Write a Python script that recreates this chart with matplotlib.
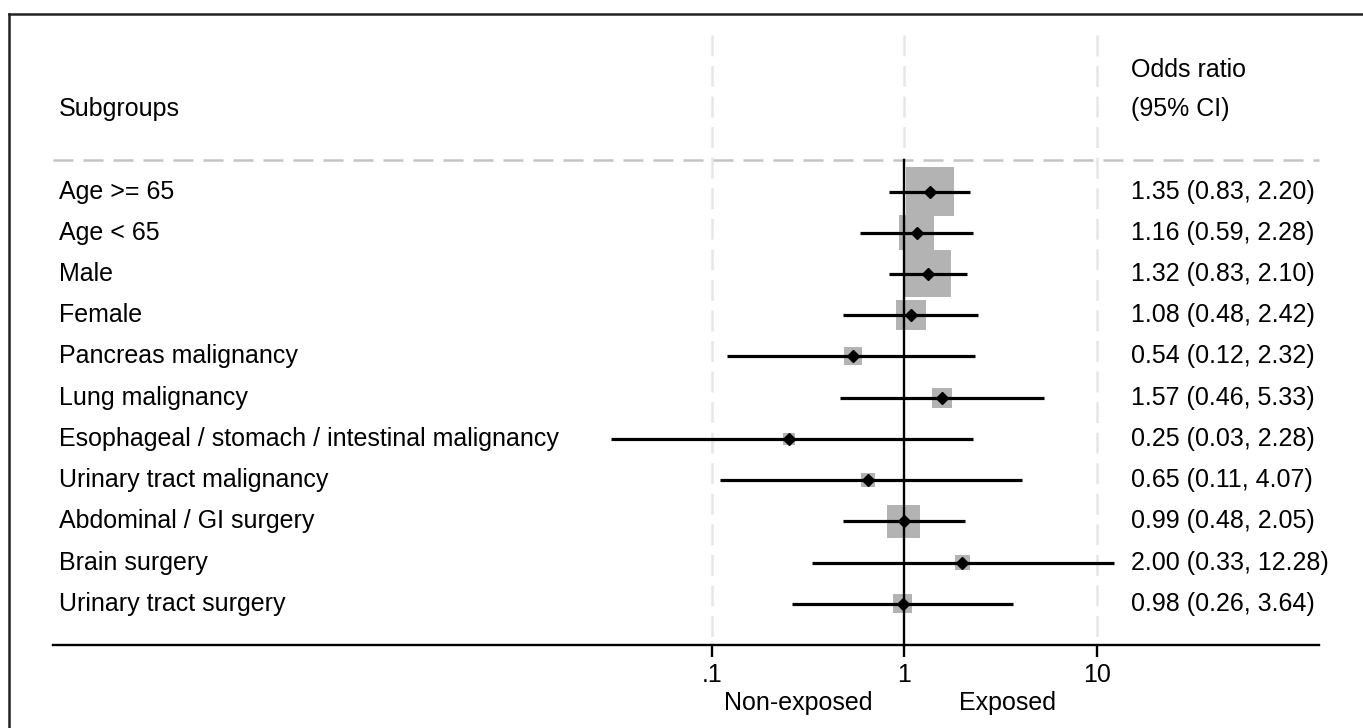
import numpy as np
import matplotlib
matplotlib.use("Agg")
import matplotlib.pyplot as plt
from matplotlib.lines import Line2D

plt.rcParams['font.family'] = ['Liberation Sans', 'DejaVu Sans']
plt.rcParams['lines.scale_dashes'] = False

subgroups = ['Age >= 65', 'Age < 65', 'Male', 'Female', 'Pancreas malignancy',
             'Lung malignancy', 'Esophageal / stomach / intestinal malignancy',
             'Urinary tract malignancy', 'Abdominal / GI surgery', 'Brain surgery',
             'Urinary tract surgery']
odds = [1.35, 1.16, 1.32, 1.08, 0.54, 1.57, 0.25, 0.65, 0.99, 2.00, 0.98]
lower = [0.83, 0.59, 0.83, 0.48, 0.12, 0.46, 0.03, 0.11, 0.48, 0.33, 0.26]
upper = [2.20, 2.28, 2.10, 2.42, 2.32, 5.33, 2.28, 4.07, 2.05, 12.28, 3.64]
weights = [24.6, 13.1, 23.6, 9.6, 3.5, 4.3, 1.5, 2.1, 11.6, 2.4, 3.8]
tick_vals = [0.1, 1, 10]
tick_labels = ['.1', '1', '10']

W, H = 1363, 728
fig = plt.figure(figsize=(W / 100, H / 100), dpi=100)
ax = fig.add_axes([0, 0, 1, 1])
ax.set_xscale('log')
ax.axis('off')

# pixel layout: 1 decade = 192.5 px, x=1 at 904.5 px; row 0 at 191.5 px, 41.23 px per row
dec = 192.5
x1 = 904.5
ax.set_xlim(10 ** (-x1 / dec), 10 ** ((W - x1) / dec))
r0, dr = 191.5, 41.23
ax.set_ylim((H - r0) / dr, -r0 / dr)

rows = np.arange(len(subgroups))
top = (35 - r0) / dr
sep = (160 - r0) / dr
base = len(subgroups)
lx0, lx1 = 53 / W, 1319 / W

# background grid lines
for v in [0.1, 10]:
    ax.plot([v, v], [top, base], color='#e6e6e6', lw=1.8, ls=(0, (15, 7)), zorder=1)
ax.plot([1, 1], [top, sep], color='#e6e6e6', lw=1.8, ls=(0, (15, 7)), zorder=1)
ax.axhline(sep, lx0, lx1, color='#c4c4c4', lw=1.8, ls=(0, (14.4, 7.2)), zorder=1)

# weight squares
sizes = (np.sqrt(weights) * 9.68 * 0.72) ** 2
ax.scatter(odds, rows, s=sizes, marker='s', color='#b3b3b3', lw=0, zorder=2)

# null line
ax.plot([1, 1], [sep, base], color='black', lw=1.7, zorder=3)

# CIs and points
ax.hlines(rows, lower, upper, color='black', lw=2.3, zorder=4)
ax.plot(odds, rows, marker='D', ls='none', color='black', ms=6, zorder=5)

# bottom axis
ax.axhline(base, lx0, lx1, color='black', lw=1.7, zorder=3)
ax.vlines(tick_vals, base, base + 0.3, color='black', lw=1.7)
fs = 18
for v, t in zip(tick_vals, tick_labels):
    ax.text(v, 11.73, t, ha='center', va='center', fontsize=fs)
ax.text(10 ** ((798 - x1) / dec), 12.4, 'Non-exposed', ha='center', va='center', fontsize=fs)
ax.text(10 ** ((1008 - x1) / dec), 12.4, 'Exposed', ha='center', va='center', fontsize=fs)

# text columns
tx_left = 59 / W
tx_right = 1131 / W
trans = ax.get_yaxis_transform()
ax.text(tx_left, -2.0, 'Subgroups', transform=trans, ha='left', va='center', fontsize=fs)
ax.text(tx_right, -2.95, 'Odds ratio', transform=trans, ha='left', va='center', fontsize=fs)
ax.text(tx_right, -2.0, '(95% CI)', transform=trans, ha='left', va='center', fontsize=fs)
for r, name, o, lo, hi in zip(rows, subgroups, odds, lower, upper):
    ax.text(tx_left, r, name, transform=trans, ha='left', va='center', fontsize=fs)
    ax.text(tx_right, r, f'{o:.2f} ({lo:.2f}, {hi:.2f})', transform=trans,
            ha='left', va='center', fontsize=fs)

# outer frame (only top and left edges are inside the picture)
fig.add_artist(Line2D([9 / W, 9 / W], [0, 1 - 14 / H], color='#222222', lw=1.8))
fig.add_artist(Line2D([9 / W, 1], [1 - 14 / H, 1 - 14 / H], color='#222222', lw=1.8))

fig.savefig('out.png', dpi=100)
